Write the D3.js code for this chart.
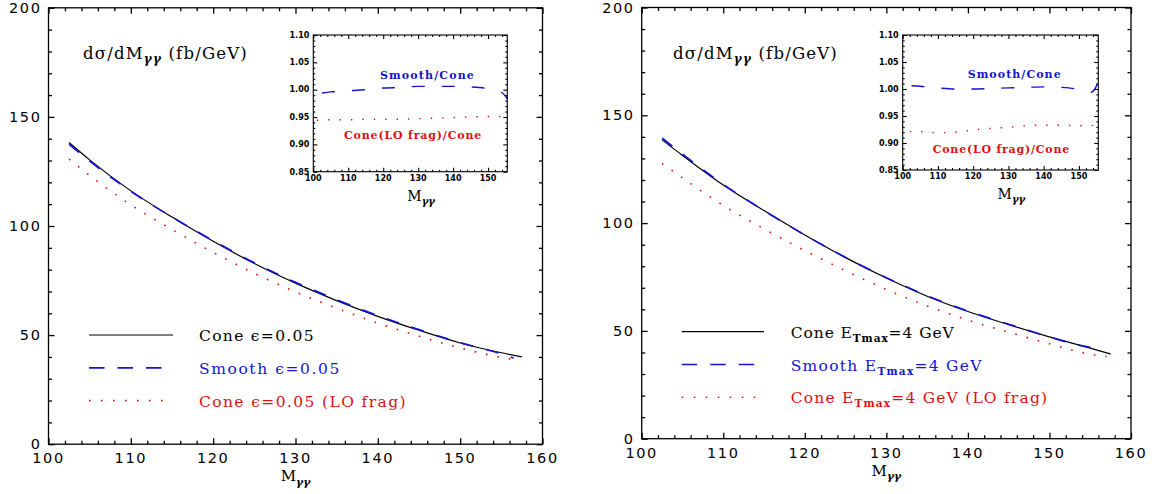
<!DOCTYPE html>
<html><head><meta charset="utf-8">
<script src="https://cdn.jsdelivr.net/npm/d3@7"></script>
<style>
html,body{margin:0;padding:0;background:#fff;}
svg{display:block;}
</style></head>
<body>
<script>
// ---------- data ----------
const xTicksMain = [100,110,120,130,140,150,160];
const yTicksMain = [0,50,100,150,200];
const insetXTicks = [100,110,120,130,140,150];
const insetYTicks = [0.85,0.90,0.95,1.00,1.05,1.10];
const insetYLabels = ["0.85","0.90","0.95","1.00","1.05","1.10"];

// Left panel (isolation parameter epsilon)
const massL       = [102.5,105,110,115,120,125,130,135,140,145,150,155,157.5];
const coneL       = [138.3,130.3,116.1,104.1,93.0,82.8,73.8,65.8,58.6,52.2,46.4,41.9,40.0];
const smoothMassL = [102.5,105,110,115,120,125,130,135,140,145,150,155,156.5];
const smoothL     = [137.4,129.8,115.9,104.1,93.3,83.1,74.2,66.2,58.9,52.5,46.5,41.4,39.5];
const loMassL     = [102.5,105,110,115,120,125,130,135,140,145,150,155,157];
const loFragL     = [130.7,123.1,109.7,98.4,87.9,78.3,69.8,62.3,55.5,49.5,44.1,39.8,38.6];
const rSmoothMassL = [102.5,105,110,115,120,125,130,135,140,145,150,153,155,155.5];
const rSmoothL     = [0.994,0.996,0.998,1.000,1.003,1.004,1.006,1.006,1.006,1.005,1.002,0.998,0.988,0.983];
const rLoMassL     = [101,105,110,115,120,125,130,135,140,145,150,155];
const rLoL         = [0.944,0.945,0.945,0.946,0.946,0.946,0.947,0.948,0.949,0.950,0.951,0.951];
const legendL = [
  {label:"Cone ϵ=0.05", sub:null, rest:""},
  {label:"Smooth ϵ=0.05", sub:null, rest:""},
  {label:"Cone ϵ=0.05 (LO frag)", sub:null, rest:""}
];

// Right panel (fixed E_Tmax)
const massR       = [102.5,105,110,115,120,125,130,135,140,145,150,155,157.5];
const coneR       = [138.6,131.4,117.7,105.8,94.5,84.0,74.5,66.1,59.0,52.9,47.2,42.0,39.3];
const smoothMassR = [102.5,105,110,115,120,125,130,135,140,145,150,152.5,155,156.2];
const smoothR     = [139.4,132.0,118.0,105.8,94.5,84.1,74.7,66.3,59.2,53.1,47.2,44.4,42.3,41.4];
const loMassR     = [102.5,105,110,115,120,125,130,135,140,145,150,155,157];
const loFragR     = [127.7,121.0,108.2,97.3,87.3,77.9,69.2,61.6,55.0,49.4,44.0,39.2,38.1];
const rSmoothMassR = [102.5,105,110,115,120,125,130,135,140,145,150,152,153.5,154.5,155.3];
const rSmoothR     = [1.006,1.005,1.002,1.000,1.000,1.001,1.002,1.003,1.004,1.003,0.999,0.995,0.994,1.000,1.010];
const rLoMassR     = [102,105,110,115,120,125,130,135,140,145,150,155];
const rLoR         = [0.921,0.921,0.919,0.920,0.924,0.927,0.929,0.932,0.933,0.933,0.932,0.933];
const legendR = [
  {label:"Cone E", sub:"Tmax", rest:"=4 GeV"},
  {label:"Smooth E", sub:"Tmax", rest:"=4 GeV"},
  {label:"Cone E", sub:"Tmax", rest:"=4 GeV (LO frag)"}
];

const BLACK = "#000", BLUE = "#1414d2", RED = "#e01010";

// ---------- drawing ----------
const W = 1158, H = 494;
const svg = d3.select("body").append("svg").attr("width", W).attr("height", H);
svg.append("rect").attr("width", W).attr("height", H).attr("fill", "#fff");

const zip = (xs, ys) => xs.map((x, i) => [x, ys[i]]);

// stretch a text to a target width by adjusting letter spacing
function fitWidth(sel, target) {
  const node = sel.node();
  sel.attr("letter-spacing", 0);
  const nat = node.getComputedTextLength();
  const n = node.textContent.length;
  sel.attr("letter-spacing", ((target - nat) / n).toFixed(2));
}

function frameTicks(g, x, y, xMajor, xMinor, yMajor, yMinor, majLen, minLen, sw) {
  const [x0, x1] = x.range(), [y0, y1] = y.range();
  const mk = (ax, vals, len, tr) => g.append("g").attr("transform", tr)
      .call(ax.tickValues(vals).tickSize(-len).tickFormat(""))
      .call(s => s.select(".domain").remove())
      .call(s => s.selectAll("line").attr("stroke", "#000").attr("stroke-width", sw));
  mk(d3.axisBottom(x), xMajor, majLen, `translate(0,${y0})`);
  mk(d3.axisBottom(x), xMinor, minLen, `translate(0,${y0})`);
  mk(d3.axisTop(x), xMajor, majLen, `translate(0,${y1})`);
  mk(d3.axisTop(x), xMinor, minLen, `translate(0,${y1})`);
  mk(d3.axisLeft(y), yMajor, majLen, `translate(${x0},0)`);
  mk(d3.axisLeft(y), yMinor, minLen, `translate(${x0},0)`);
  mk(d3.axisRight(y), yMajor, majLen, `translate(${x1},0)`);
  mk(d3.axisRight(y), yMinor, minLen, `translate(${x1},0)`);
  g.append("rect").attr("x", x0).attr("y", y1).attr("width", x1 - x0).attr("height", y0 - y1)
    .attr("fill", "none").attr("stroke", "#000").attr("stroke-width", sw);
}

function mLabel(g, cx, by, size) {
  const t = g.append("text").attr("x", cx).attr("y", by).attr("text-anchor", "middle")
    .attr("font-family", "DejaVu Serif").attr("font-size", size).attr("fill", "#000");
  t.append("tspan").text("M");
  t.append("tspan").attr("dy", size * 0.3).attr("font-size", size * 0.72)
    .attr("font-style", "italic").attr("font-weight", "bold").text("γγ");
}

function panel(cfg) {
  const g = svg.append("g");
  const x = d3.scaleLinear().domain([100, 160]).range(cfg.xr);
  const y = d3.scaleLinear().domain([0, 200]).range(cfg.yr);

  // lines
  const line = d3.line().x(d => x(d[0])).y(d => y(d[1])).curve(d3.curveMonotoneX);
  g.append("path").datum(zip(cfg.loMass, cfg.lo)).attr("d", line).attr("fill", "none")
    .attr("stroke", RED).attr("stroke-width", 1.6).attr("stroke-dasharray", "1.6 10");
  g.append("path").datum(zip(cfg.cMass, cfg.cone)).attr("d", line).attr("fill", "none")
    .attr("stroke", BLACK).attr("stroke-width", 1.2);
  g.append("path").datum(zip(cfg.sMass, cfg.smooth)).attr("d", line).attr("fill", "none")
    .attr("stroke", BLUE).attr("stroke-width", 1.7).attr("stroke-dasharray", "13 13");

  // frame & ticks
  frameTicks(g, x, y, xTicksMain, d3.range(100, 161, 2).filter(v => v % 10),
    yTicksMain, d3.range(0, 201, 10).filter(v => v % 50), 6, 3.5, 1.3);

  // tick labels
  g.append("g").selectAll("text").data(xTicksMain).join("text")
    .attr("x", d => x(d)).attr("y", cfg.yr[0] + 14).attr("dy", "0.35em")
    .attr("text-anchor", "middle").attr("font-family", "DejaVu Sans").attr("font-size", 14.5)
    .attr("letter-spacing", 1.6).attr("fill", "#000").text(d => d);
  g.append("g").selectAll("text").data(yTicksMain).join("text")
    .attr("x", cfg.xr[0] - 7).attr("y", d => y(d)).attr("dy", "0.35em")
    .attr("text-anchor", "end").attr("font-family", "DejaVu Sans").attr("font-size", 14.5)
    .attr("letter-spacing", 1.6).attr("fill", "#000").text(d => d);

  mLabel(g, x(130), cfg.yr[0] + 37, 15);

  // y title
  const t = g.append("text").attr("x", cfg.titleX).attr("y", 59)
    .attr("font-family", "DejaVu Serif").attr("font-size", 16.5).attr("fill", "#000");
  t.append("tspan").text("dσ/dM");
  t.append("tspan").attr("dy", 4).attr("font-size", 12).attr("font-style", "italic")
    .attr("font-weight", "bold").text("γγ");
  t.append("tspan").attr("dy", -4).text(" (fb/GeV)");
  fitWidth(t, 165);

  // legend
  const styles = [
    {c: BLACK, w: 1.2, da: null},
    {c: BLUE, w: 1.7, da: "15.5 13"},
    {c: RED, w: 1.6, da: "1.6 10.4"}
  ];
  cfg.legend.forEach((L, i) => {
    const ly = cfg.legY + i * cfg.legDy;
    const s = styles[i];
    g.append("line").attr("x1", cfg.legX1).attr("x2", cfg.legX2).attr("y1", ly).attr("y2", ly)
      .attr("stroke", s.c).attr("stroke-width", s.w).attr("stroke-dasharray", s.da);
    const tx = g.append("text").attr("x", cfg.legTx).attr("y", ly + 6)
      .attr("font-family", "DejaVu Serif").attr("font-size", 15.5)
      .attr("fill", s.c);
    tx.append("tspan").text(L.label);
    if (L.sub) {
      tx.append("tspan").attr("dy", 4).attr("font-size", 10.5).attr("font-weight", "bold")
        .text(L.sub);
      tx.append("tspan").attr("dy", -4).text(L.rest);
    }
    fitWidth(tx, cfg.legW[i]);
  });

  // inset
  const ix = d3.scaleLinear().domain([100, 155.5]).range(cfg.ixr);
  const iy = d3.scaleLinear().domain([0.85, 1.10]).range(cfg.iyr);
  const il = d3.line().x(d => ix(d[0])).y(d => iy(d[1])).curve(d3.curveMonotoneX);
  const ig = g.append("g");
  ig.append("path").datum(zip(cfg.rLoMass, cfg.rLo)).attr("d", il).attr("fill", "none")
    .attr("stroke", RED).attr("stroke-width", 1.4).attr("stroke-dasharray", "1.4 10");
  ig.append("path").datum(zip(cfg.rSmoothMass, cfg.rSmooth)).attr("d", il).attr("fill", "none")
    .attr("stroke", BLUE).attr("stroke-width", 1.4).attr("stroke-dasharray", "13 17");
  frameTicks(ig, ix, iy, insetXTicks, d3.range(102, 156, 2).filter(v => v % 10),
    insetYTicks, d3.range(0.86, 1.10, 0.01).filter(v => Math.round(v * 100) % 5),
    4, 2, 1.1);
  ig.append("g").selectAll("text").data(insetXTicks).join("text")
    .attr("x", d => ix(d)).attr("y", cfg.iyr[0] + 6.5).attr("dy", "0.35em")
    .attr("text-anchor", "middle").attr("font-family", "DejaVu Sans").attr("font-weight", "bold")
    .attr("font-size", 8).attr("fill", "#000").text(d => d);
  ig.append("g").selectAll("text").data(insetYTicks).join("text")
    .attr("x", cfg.ixr[0] - 4).attr("y", d => iy(d)).attr("dy", "0.35em")
    .attr("text-anchor", "end").attr("font-family", "DejaVu Sans").attr("font-weight", "bold")
    .attr("font-size", 8).attr("fill", "#000").text((d, i) => insetYLabels[i]);
  mLabel(ig, ix(130) + 3, cfg.iyr[0] + 29, 14);
  const s1 = ig.append("text").attr("x", cfg.smTx).attr("y", cfg.smTy)
    .attr("font-family", "DejaVu Serif").attr("font-weight", "bold").attr("font-size", 11)
    .attr("fill", BLUE).text("Smooth/Cone");
  fitWidth(s1, cfg.smW);
  const s2 = ig.append("text").attr("x", cfg.loTx).attr("y", cfg.loTy)
    .attr("font-family", "DejaVu Serif").attr("font-weight", "bold").attr("font-size", 11)
    .attr("fill", RED).text("Cone(LO frag)/Cone");
  fitWidth(s2, cfg.loW);
}

panel({
  xr: [48.5, 542.5], yr: [444.2, 7.8],
  cMass: massL, cone: coneL, sMass: smoothMassL, smooth: smoothL, loMass: loMassL, lo: loFragL,
  titleX: 83,
  legend: legendL, legY: 335, legDy: 32.8, legX1: 89, legX2: 173, legTx: 199,
  legW: [116, 142, 208],
  ixr: [313.3, 507.3], iyr: [171.7, 35],
  rSmoothMass: rSmoothMassL, rSmooth: rSmoothL, rLoMass: rLoMassL, rLo: rLoL,
  smTx: 380, smTy: 79, smW: 95, loTx: 344, loTy: 138.5, loW: 138
});
panel({
  xr: [641.7, 1131], yr: [438.7, 7.5],
  cMass: massR, cone: coneR, sMass: smoothMassR, smooth: smoothR, loMass: loMassR, lo: loFragR,
  titleX: 673,
  legend: legendR, legY: 331.7, legDy: 32.8, legX1: 681.7, legX2: 764, legTx: 790.7,
  legW: [164, 192, 257.5],
  ixr: [902.7, 1098.3], iyr: [170, 35],
  rSmoothMass: rSmoothMassR, rSmooth: rSmoothR, rLoMass: rLoMassR, rLo: rLoR,
  smTx: 967.7, smTy: 77.5, smW: 94, loTx: 932.7, loTy: 153, loW: 137.3
});
</script>
</body></html>
